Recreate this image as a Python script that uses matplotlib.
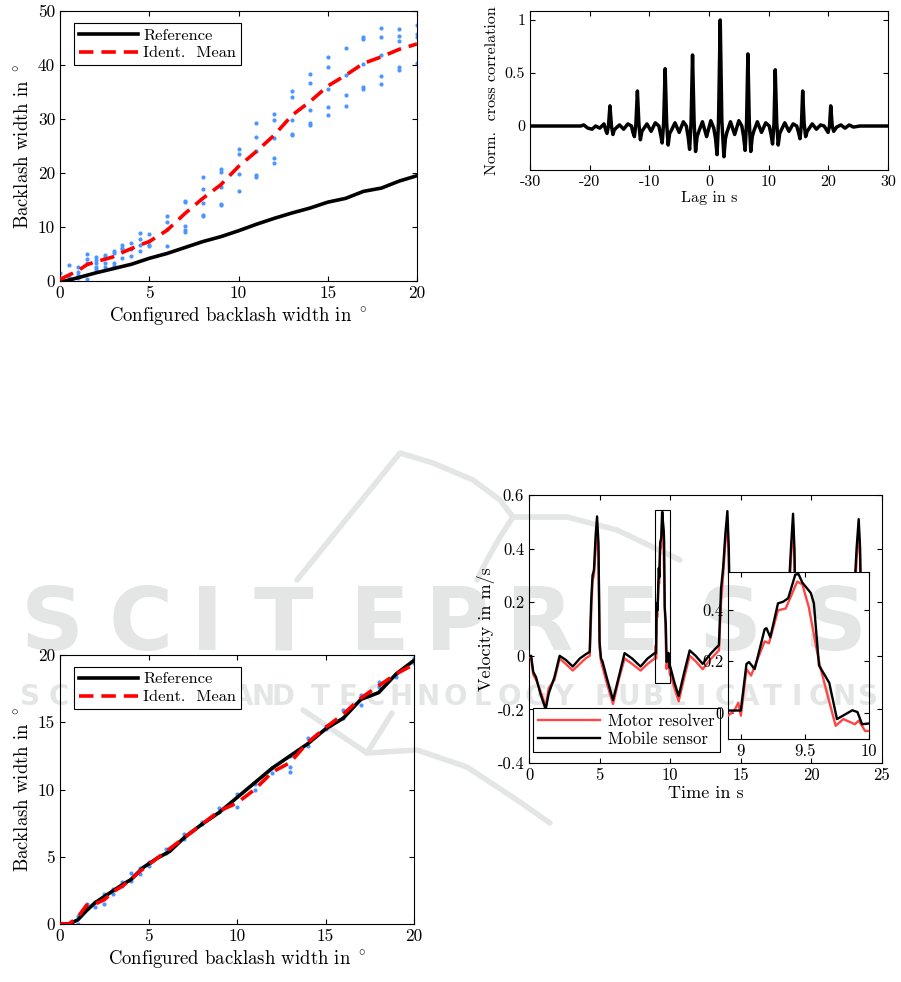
import numpy as np
import matplotlib
matplotlib.use("Agg")
import matplotlib.pyplot as plt
from matplotlib.lines import Line2D
from matplotlib.patches import Rectangle

plt.rcParams["font.family"] = "serif"
plt.rcParams["font.serif"] = ["cmr10", "DejaVu Serif"]
plt.rcParams["mathtext.fontset"] = "cm"
plt.rcParams["axes.unicode_minus"] = False
plt.rcParams["xtick.direction"] = "in"
plt.rcParams["ytick.direction"] = "in"
plt.rcParams["xtick.top"] = True
plt.rcParams["ytick.right"] = True
plt.rcParams["xtick.major.size"] = 3.5
plt.rcParams["ytick.major.size"] = 3.5
plt.rcParams["axes.linewidth"] = 0.8

# ---- top left: identified vs configured backlash (raw) ----
ref1_x = [0, 0.3, 1, 2, 3, 4, 5, 6, 7, 8, 9, 10, 11, 12, 13, 14, 15, 16, 17, 18, 19, 20]
ref1_y = [0, 0, 0.6, 1.5, 2.3, 3.1, 4.2, 5.1, 6.2, 7.3, 8.2, 9.3, 10.5, 11.6, 12.6, 13.5, 14.6, 15.3, 16.6, 17.2, 18.5, 19.5]
cfg = [0, 0.5, 1, 1.5, 2, 2.5, 3, 3.5, 4, 4.5, 5, 6, 7, 8, 9, 10, 11, 12, 13, 14, 15, 16, 17, 18, 19, 20]
mean1 = [0.3, 1.1, 1.9, 3.0, 3.6, 4.0, 4.5, 5.3, 6.0, 6.7, 7.3, 9.4, 12.5, 15.3, 17.8, 21.2, 24.0,
         27.0, 30.7, 33.2, 36.1, 38.1, 40.3, 41.5, 42.9, 43.9]
dots1 = [[1.4, 0.0], [3.0, 0.8], [2.6, 1.7, 1.1, 0.5], [5.0, 4.0, 3.3, 0.3],
         [4.4, 3.9, 3.3, 2.6, 2.3], [4.8, 4.5, 3.3, 2.6], [5.6, 5.1, 3.3, 2.8],
         [6.7, 6.2, 5.9, 4.2], [7.1, 6.0, 4.6], [8.8, 7.7, 6.7, 5.6], [8.7, 7.5, 6.7, 6.4],
         [12.0, 11.0, 9.6, 6.5], [14.8, 14.6, 10.2, 9.4, 9.0], [19.3, 17.0, 14.5, 12.2, 12.0],
         [20.8, 20.1, 17.5, 14.2, 14.0], [24.4, 23.6, 19.8, 16.7], [29.3, 26.7, 24.1, 19.6, 19.3],
         [30.9, 29.8, 26.5, 22.8, 21.8], [35.2, 34.0, 29.8, 27.3, 27.0], [38.3, 36.6, 31.7, 29.2, 28.8],
         [41.4, 39.7, 35.5, 32.2, 30.7], [43.1, 38.1, 34.4, 32.4], [45.1, 44.8, 40.2, 35.9, 35.5],
         [46.8, 45.2, 41.9, 38.0, 36.4], [46.7, 45.4, 44.4, 39.7, 39.0], [47.4, 45.7, 45.2, 40.4]]

# ---- bottom left: identified vs configured backlash (corrected) ----
ref3_x = [0, 0.5, 1, 1.5, 2, 2.8, 3.5, 4, 4.7, 5.5, 6.2, 7, 8, 9, 10, 11, 12, 13, 14, 15, 16, 17, 18, 19, 20]
ref3_y = [0, 0, 0.3, 1.0, 1.6, 2.3, 2.9, 3.3, 4.2, 4.9, 5.4, 6.4, 7.4, 8.3, 9.4, 10.5, 11.6, 12.5, 13.4, 14.5,
          15.3, 16.7, 17.2, 18.6, 19.6]
mean3 = [0, 0, 0.5, 1.4, 1.5, 1.8, 2.4, 2.8, 3.3, 3.9, 4.4, 5.4, 6.4, 7.4, 8.4, 9.0, 10.0, 11.3, 12.0,
         13.5, 14.6, 15.6, 16.8, 17.7, 18.6, 19.3]
dots3 = [[0.0], [0.0], [0.6, 0.0], [1.5, 1.2], [1.6, 1.3], [2.2, 1.5], [2.6, 2.2], [3.1, 2.8],
         [3.8, 3.2], [4.2, 3.7], [4.6, 4.3], [5.6, 5.3], [6.7, 6.3], [7.6, 7.4], [8.6, 8.3],
         [9.7, 8.7], [10.4, 10.0], [11.6, 11.2], [12.5, 11.7, 11.3], [13.8, 13.2], [14.7, 14.5],
         [15.9, 15.3], [17.0, 16.3], [18.0, 17.6], [18.6, 18.4], [19.8, 19.4]]

# ---- top right: normalised cross correlation ----
corr_pts = [(-30, 0), (-21.5, 0), (-21.0, 0.01), (-20.3, -0.02), (-19.6, -0.03), (-19.0, 0.0), (-18.3, -0.02),
            (-17.6, 0.02), (-17.3, -0.04), (-17.1, -0.07), (-16.85, 0.0), (-16.6, 0.19), (-16.35, 0.0),
            (-16.1, -0.08), (-15.9, -0.04), (-15.6, -0.02), (-15.0, 0.01), (-14.3, -0.03), (-13.6, 0.02),
            (-13.0, 0.0), (-12.75, -0.06), (-12.5, -0.10), (-12.25, 0.02), (-12.0, 0.33), (-11.75, 0.02),
            (-11.5, -0.13), (-11.25, -0.05), (-11.0, -0.03), (-10.4, 0.02), (-9.7, -0.05), (-9.0, 0.03),
            (-8.4, 0.0), (-8.1, -0.08), (-7.85, -0.16), (-7.6, 0.03), (-7.35, 0.54), (-7.1, 0.03),
            (-6.85, -0.18), (-6.6, -0.07), (-6.3, -0.04), (-5.7, 0.03), (-5.0, -0.06), (-4.3, 0.04),
            (-3.8, 0.0), (-3.5, -0.1), (-3.25, -0.22), (-3.0, 0.04), (-2.76, 0.67), (-2.5, 0.04),
            (-2.25, -0.24), (-2.0, -0.1), (-1.7, -0.05), (-1.1, 0.04), (-0.4, -0.10), (0.3, 0.05),
            (0.8, -0.02), (1.1, -0.12), (1.35, -0.27), (1.6, 0.05), (1.88, 1.0), (2.15, 0.05), (2.5, -0.29),
            (2.75, -0.12), (3.0, -0.06), (3.6, 0.04), (4.3, -0.08), (5.0, 0.05), (5.5, 0.0), (5.8, -0.1),
            (6.05, -0.23), (6.3, 0.04), (6.52, 0.68), (6.75, 0.04), (7.0, -0.24), (7.25, -0.1),
            (7.5, -0.05), (8.1, 0.04), (8.8, -0.06), (9.5, 0.03), (10.1, 0.0), (10.4, -0.08),
            (10.65, -0.17), (10.9, 0.03), (11.1, 0.53), (11.35, 0.03), (11.6, -0.18), (11.85, -0.07),
            (12.1, -0.04), (12.7, 0.03), (13.4, -0.05), (14.1, 0.02), (14.7, 0.0), (15.0, -0.06),
            (15.25, -0.12), (15.5, 0.02), (15.7, 0.33), (15.95, 0.02), (16.2, -0.10), (16.45, -0.05),
            (16.7, -0.03), (17.3, 0.02), (18.0, -0.03), (18.7, 0.01), (19.3, 0.0), (19.95, -0.06),
            (20.2, 0.0), (20.4, 0.19), (20.65, 0.0), (20.9, -0.05), (21.4, -0.01), (22.1, 0.01),
            (22.8, -0.02), (23.5, 0.01), (24.2, -0.01), (25.3, 0.0), (30, 0)]

# ---- bottom right: velocity ----
mobile_pts = [(0, 0.0), (0.15, 0.0), (0.3, -0.06), (0.5, -0.08), (0.8, -0.14), (1.18, -0.20), (1.4, -0.14),
              (1.8, -0.08), (2.17, 0.0), (2.6, -0.015), (3.1, -0.04), (3.6, -0.01), (4.0, 0.005),
              (4.3, 0.015), (4.4, 0.2), (4.5, 0.3), (4.6, 0.32), (4.72, 0.45), (4.82, 0.52), (4.92, 0.42),
              (5.0, 0.05), (5.1, -0.01), (5.2, -0.02), (5.5, -0.08), (5.95, -0.165), (6.4, -0.07),
              (6.77, 0.01), (7.3, -0.01), (7.9, -0.04), (8.4, -0.01), (8.9, 0.01), (9.0, 0.01),
              (9.044, 0.19), (9.064, 0.197), (9.108, 0.17), (9.186, 0.324), (9.2, 0.328), (9.23, 0.293),
              (9.29, 0.424), (9.33, 0.43), (9.37, 0.444), (9.425, 0.535), (9.45, 0.537), (9.48, 0.504),
              (9.546, 0.464), (9.57, 0.424), (9.61, 0.184), (9.69, 0.117), (9.75, -0.023), (9.80, -0.009),
              (9.87, 0.011), (9.91, 0.004), (9.946, -0.043), (10.0, -0.04), (10.3, -0.1), (10.6, -0.15),
              (11.0, -0.06), (11.38, 0.02), (11.8, 0.0), (12.3, -0.03), (12.9, 0.01), (13.45, 0.04),
              (13.6, 0.25), (13.75, 0.33), (13.9, 0.45), (14.05, 0.54), (14.15, 0.4), (14.25, 0.05),
              (14.4, -0.03), (14.7, -0.08), (15.25, -0.15), (15.7, -0.06), (16.0, 0.02), (16.6, 0.0),
              (17.2, -0.03), (17.8, 0.01), (18.2, 0.04), (18.4, 0.25), (18.55, 0.4), (18.7, 0.53),
              (18.8, 0.4), (18.9, 0.05), (19.1, -0.03), (19.4, -0.08), (19.9, -0.15), (20.3, -0.06),
              (20.7, 0.02), (21.3, 0.0), (21.9, -0.03), (22.5, 0.01), (22.9, 0.04), (23.05, 0.25),
              (23.2, 0.4), (23.35, 0.51), (23.45, 0.4), (23.55, 0.05), (23.7, -0.03), (24.0, -0.08)]
motor_pts = [(0, 0.0), (0.15, -0.01), (0.3, -0.07), (0.5, -0.09), (0.8, -0.13), (1.18, -0.19), (1.4, -0.12),
             (1.8, -0.09), (2.17, -0.01), (2.6, -0.03), (3.1, -0.055), (3.6, -0.03), (4.0, -0.01),
             (4.3, 0.0), (4.4, 0.15), (4.5, 0.28), (4.6, 0.3), (4.72, 0.4), (4.82, 0.48), (4.92, 0.38),
             (5.0, 0.03), (5.1, -0.02), (5.2, -0.04), (5.5, -0.1), (5.95, -0.18), (6.4, -0.08),
             (6.77, -0.01), (7.3, -0.03), (7.9, -0.055), (8.4, -0.03), (8.9, -0.01), (8.95, 0.01),
             (8.98, 0.04), (9.0, -0.01), (9.044, 0.17), (9.08, 0.145), (9.186, 0.277), (9.22, 0.27),
             (9.29, 0.397), (9.35, 0.404), (9.44, 0.508), (9.48, 0.497), (9.53, 0.41), (9.595, 0.237),
             (9.62, 0.177), (9.69, 0.044), (9.74, -0.049), (9.80, -0.023), (9.89, -0.043), (9.92, -0.029),
             (9.97, -0.069), (10.0, -0.069), (10.3, -0.12), (10.6, -0.17), (11.0, -0.08), (11.38, 0.0),
             (11.8, -0.02), (12.3, -0.05), (12.9, -0.01), (13.45, 0.02), (13.6, 0.2), (13.75, 0.3),
             (13.9, 0.42), (14.05, 0.5), (14.15, 0.36), (14.25, 0.03), (14.4, -0.05), (14.7, -0.1),
             (15.25, -0.17), (15.7, -0.08), (16.0, 0.0), (16.6, -0.02), (17.2, -0.05), (17.8, -0.01),
             (18.2, 0.02), (18.4, 0.2), (18.55, 0.36), (18.7, 0.49), (18.8, 0.36), (18.9, 0.03),
             (19.1, -0.05), (19.4, -0.1), (19.9, -0.17), (20.3, -0.08), (20.7, 0.0), (21.3, -0.02),
             (21.9, -0.05), (22.5, -0.01), (22.9, 0.02), (23.05, 0.2), (23.2, 0.36), (23.35, 0.47),
             (23.45, 0.36), (23.55, 0.03), (23.7, -0.05), (24.0, -0.1)]
zoom_t = (8.9, 10.0)
zoom_v = (-0.1, 0.545)

# watermark text
wm_word = "SCITEPRESS"
wm_word_x = [52, 141, 207, 283, 380, 457, 540, 630, 730, 835]
wm_sub = [("SCIENCE", 15, 220), ("AND", 233, 293), ("TECHNOLOGY", 307, 577), ("PUBLICATIONS", 593, 880)]

W, H = 901, 982
DEG = r"$^\circ$"
BLUE = "#4d96ff"
LRED = "#ff4545"
WMC = "#e4e6e6"


def rect(l, t, r, b):
    return [l / W, 1 - b / H, (r - l) / W, (b - t) / H]


def flat(groups):
    xs, ys = [], []
    for c, g in zip(cfg, groups):
        xs += [c] * len(g)
        ys += g
    return xs, ys


def watermark(target, **kw):
    for ch, x in zip(wm_word, wm_word_x):
        target.text(x / W, 1 - 617 / H, ch, transform=fig.transFigure, ha="center", va="center_baseline",
                    fontsize=63, fontweight="bold", family="DejaVu Sans", color=WMC, **kw)
    for word, x0, x1 in wm_sub:
        n = len(word)
        step = (x1 - x0) / n
        for i, ch in enumerate(word):
            target.text((x0 + step * (i + 0.5)) / W, 1 - 694 / H, ch, transform=fig.transFigure,
                        ha="center", va="center_baseline", fontsize=20, fontweight="bold",
                        family="DejaVu Sans", color=WMC, **kw)


fig = plt.figure(figsize=(W / 100, H / 100), dpi=100)
fig.patch.set_facecolor("white")
watermark(fig, zorder=-2)
swoosh = [[(297, 580), (400, 453), (433, 463), (473, 480), (500, 500), (513, 517)],
          [(513, 517), (567, 517), (617, 530), (680, 560)],
          [(513, 517), (500, 537), (487, 560), (477, 580)],
          [(303, 710), (367, 753)], [(392, 713), (367, 753)],
          [(367, 753), (417, 750), (467, 767), (517, 800), (550, 823)]]
for seg in swoosh:
    sx = [p[0] / W for p in seg]
    sy = [1 - p[1] / H for p in seg]
    fig.add_artist(Line2D(sx, sy, transform=fig.transFigure, color=WMC, lw=4, zorder=-2,
                          solid_capstyle="round", solid_joinstyle="round"))


def backlash_axes(ax, ref_x, ref_y, mean, dots, ymax, yticks):
    ax.set_facecolor("none")
    dx, dy = flat(dots)
    ax.scatter(dx, dy, s=9, color=BLUE, zorder=2, linewidths=0)
    ax.plot(ref_x, ref_y, color="black", lw=2.6, label="Reference", zorder=3)
    ax.plot(cfg, mean, color="red", lw=2.6, ls=(0, (4, 2.2)), label="Ident.  Mean", zorder=4)
    ax.set_xlim(0, 20)
    ax.set_ylim(0, ymax)
    ax.set_xticks([0, 5, 10, 15, 20])
    ax.set_xticklabels(["0", "5", "10", "15", "20"], fontsize=12.5)
    ax.set_yticks(yticks)
    ax.set_yticklabels([str(v) for v in yticks], fontsize=12.5)
    ax.set_xlabel("Configured backlash width in " + DEG, fontsize=13.5, labelpad=3)
    ax.set_ylabel("Backlash width in " + DEG, fontsize=13.5, labelpad=4)
    leg = ax.legend(loc="upper left", bbox_to_anchor=(0.04, 0.955), fontsize=11.8, handlelength=3.6,
                    fancybox=False, edgecolor="black", framealpha=1, borderpad=0.3,
                    labelspacing=0.2, handletextpad=0.3, borderaxespad=0)
    leg.get_frame().set_linewidth(0.8)


ax1 = fig.add_axes(rect(60, 11, 417, 281))
backlash_axes(ax1, ref1_x, ref1_y, mean1, dots1, 50, [0, 10, 20, 30, 40, 50])

ax3 = fig.add_axes(rect(60, 655, 414, 924))
backlash_axes(ax3, ref3_x, ref3_y, mean3, dots3, 20, [0, 5, 10, 15, 20])

# cross correlation
ax2 = fig.add_axes(rect(530, 11, 888, 170))
ax2.set_facecolor("none")
lag = [p[0] for p in corr_pts]
ccv = [p[1] for p in corr_pts]
ax2.plot(lag, ccv, color="black", lw=2.5)
ax2.set_xlim(-30, 30)
ax2.set_ylim(-0.415, 1.085)
ax2.set_xticks([-30, -20, -10, 0, 10, 20, 30])
ax2.set_xticklabels(["-30", "-20", "-10", "0", "10", "20", "30"], fontsize=11.5)
ax2.set_yticks([0, 0.5, 1])
ax2.set_yticklabels(["0", "0.5", "1"], fontsize=11.5)
ax2.set_xlabel("Lag in s", fontsize=11.5, labelpad=2)
ax2.set_ylabel("Norm.  cross correlation", fontsize=11.5, labelpad=4)

# velocity
ax4 = fig.add_axes(rect(529, 495, 882, 763))
ax4.set_facecolor("none")
tm = [p[0] for p in motor_pts]
vm = [p[1] for p in motor_pts]
tb = [p[0] for p in mobile_pts]
vb = [p[1] for p in mobile_pts]
ax4.plot(tm, vm, color=LRED, lw=1.7, label="Motor resolver", zorder=3)
ax4.plot(tb, vb, color="black", lw=1.7, label="Mobile sensor", zorder=4)
ax4.add_patch(Rectangle((zoom_t[0], zoom_v[0]), zoom_t[1] - zoom_t[0], zoom_v[1] - zoom_v[0],
                        fill=False, edgecolor="black", lw=0.8, zorder=5))
ax4.set_xlim(0, 25)
ax4.set_ylim(-0.4, 0.6)
ax4.set_xticks([0, 5, 10, 15, 20, 25])
ax4.set_xticklabels(["0", "5", "10", "15", "20", "25"], fontsize=12)
ax4.set_yticks([-0.4, -0.2, 0, 0.2, 0.4, 0.6])
ax4.set_yticklabels(["-0.4", "-0.2", "0", "0.2", "0.4", "0.6"], fontsize=12)
ax4.set_xlabel("Time in s", fontsize=13, labelpad=2)
ax4.set_ylabel("Velocity in m/s", fontsize=13, labelpad=2)
leg = ax4.legend(loc="lower left", bbox_to_anchor=(0.012, 0.04), fontsize=12, handlelength=3.7,
                 fancybox=False, edgecolor="black", framealpha=1, borderpad=0.3,
                 labelspacing=0.2, handletextpad=0.5, borderaxespad=0)
leg.get_frame().set_linewidth(0.8)
leg.set_zorder(6)

# inset
axin = fig.add_axes(rect(728, 572, 869, 739))
axin.set_facecolor("white")
watermark(axin, zorder=0.5, clip_on=True)
axin.plot(tm, vm, color=LRED, lw=1.7, zorder=3)
axin.plot(tb, vb, color="black", lw=1.7, zorder=4)
axin.set_xlim(*zoom_t)
axin.set_ylim(*zoom_v)
axin.set_xticks([9, 9.5, 10])
axin.set_xticklabels(["9", "9.5", "10"], fontsize=12)
axin.set_yticks([0, 0.2, 0.4])
axin.set_yticklabels(["0", "0.2", "0.4"], fontsize=12)

fig.savefig("out.png", dpi=100, facecolor="white")
